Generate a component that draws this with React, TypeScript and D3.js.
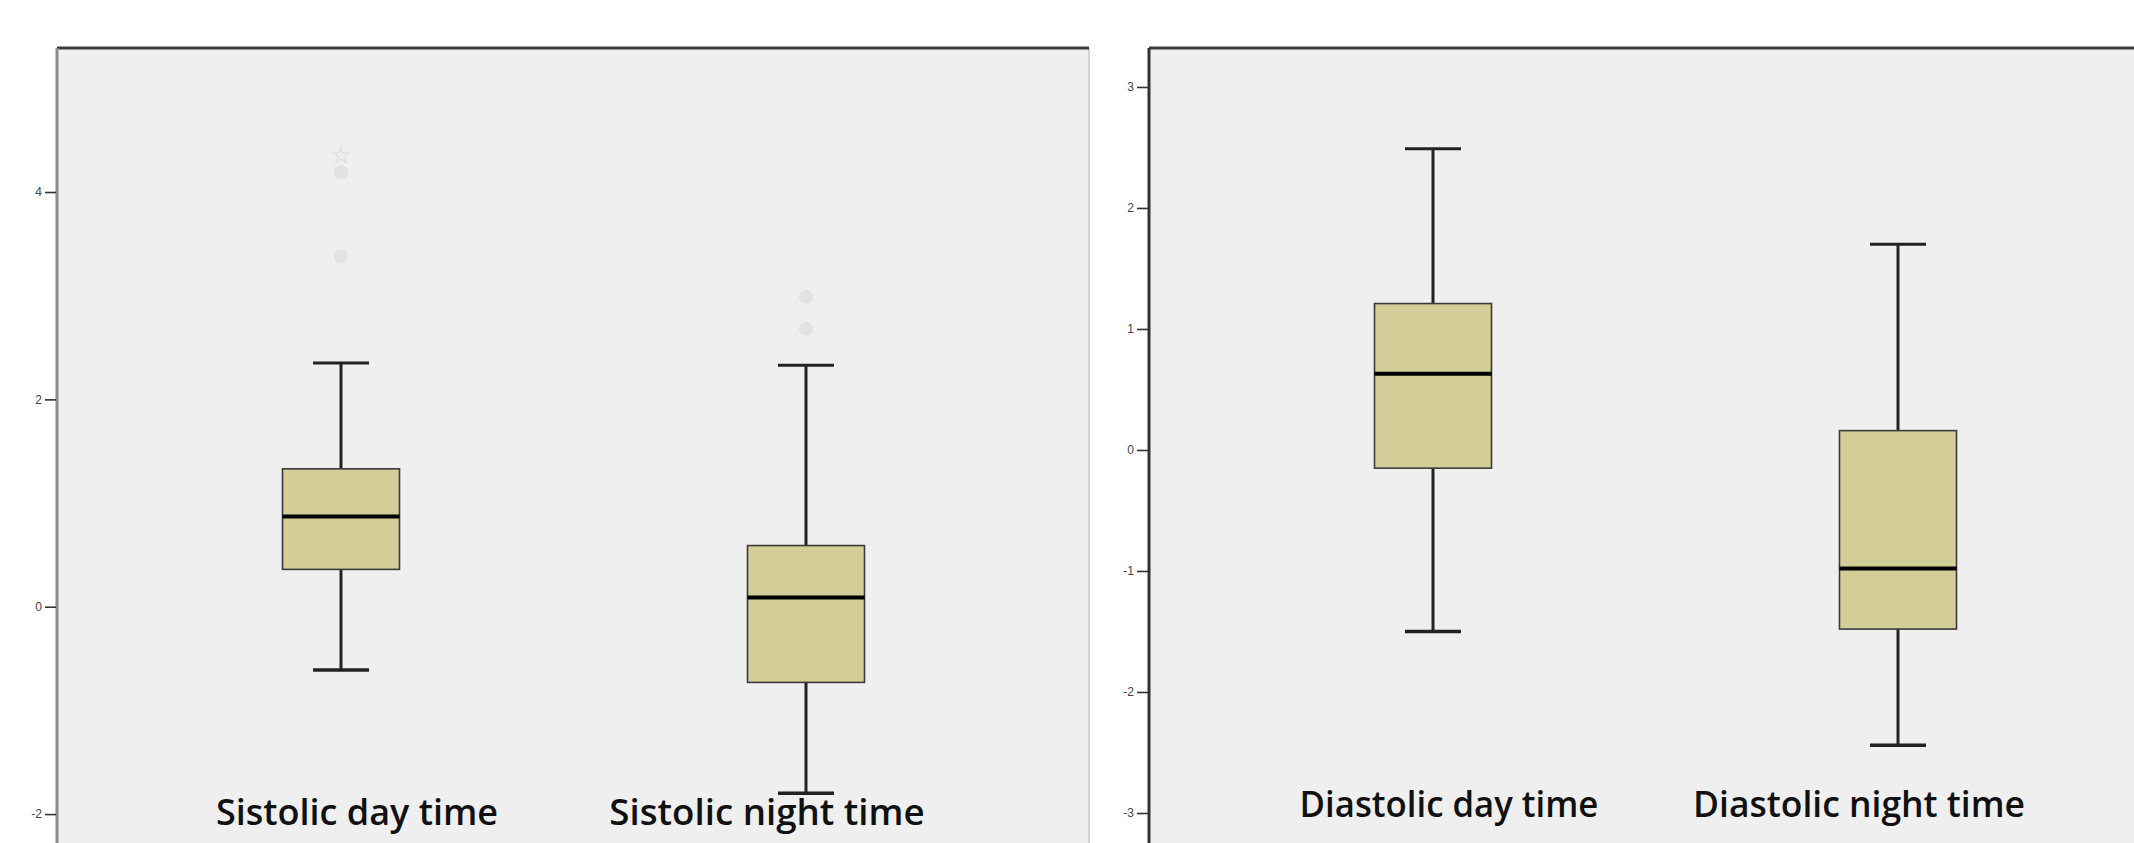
import * as d3 from "d3";
import { useEffect, useRef } from "react";

// categories
const sisCategories = ["Sistolic day time", "Sistolic night time"];
const diaCategories = ["Diastolic day time", "Diastolic night time"];

// sistolic box stats
const sisLow = [-0.61, -1.8];
const sisQ1 = [0.36, -0.73];
const sisMedian = [0.87, 0.09];
const sisQ3 = [1.33, 0.59];
const sisHigh = [2.35, 2.33];
const sisOutliers = [[3.38, 4.19], [2.68, 2.99]];
const sisExtremes = [[4.35], []];

// diastolic box stats
const diaLow = [-1.5, -2.44];
const diaQ1 = [-0.15, -1.48];
const diaMedian = [0.63, -0.98];
const diaQ3 = [1.21, 0.16];
const diaHigh = [2.49, 1.7];
const diaOutliers = [[], []];
const diaExtremes = [[], []];

// tick labels
const sisTicks = [-2, 0, 2, 4];
const diaTicks = [-3, -2, -1, 0, 1, 2, 3];

const W = 2134;
const H = 843;

type PanelProps = {
    id: string;
    left: number;
    categories: string[];
    low: number[];
    q1: number[];
    median: number[];
    q3: number[];
    high: number[];
    outliers: number[][];
    extremes: number[][];
    ticks: number[];
    domain: [number, number];
    labelBaseline: number;
    leftBorder: string;
};

function Panel(props: PanelProps) {
    const { id, left, categories, ticks, domain } = props;
    const axisRef = useRef<SVGGElement>(null);

    const panel = { top: 48, width: 1032, bottom: H + 20 };
    const boxWidth = 117;
    const capWidth = 56;

    const x = d3.scalePoint<string>().domain(categories).range([284, 749]);
    const xLabel = d3.scalePoint<string>().domain(categories).range([300, 710]);
    const y = d3.scaleLinear().domain(domain).range([H, panel.top]);

    useEffect(() => {
        const g = d3.select(axisRef.current);
        g.call(d3.axisLeft(y).tickValues(ticks).tickSize(11).tickPadding(3).tickFormat((t) => String(t)));
        g.select(".domain").remove();
        g.selectAll(".tick line").attr("stroke", "#333").attr("stroke-width", 1.6);
        g.selectAll(".tick text")
            .attr("fill", "#444")
            .attr("font-size", 12)
            .attr("font-family", "Liberation Sans, Arial, sans-serif");
    }, [id]);

    const star = d3.symbol(d3.symbolStar, 80)() || "";

    return (
        <g transform={`translate(${left},0)`}>
            <rect x={0} y={panel.top} width={panel.width} height={panel.bottom - panel.top} fill="#efefef" />
            <line x1={panel.width} x2={panel.width} y1={panel.top} y2={panel.bottom} stroke="#d4d4d4" strokeWidth={2} />
            <line x1={0} x2={panel.width} y1={panel.top} y2={panel.top} stroke="#3c3c3c" strokeWidth={3} />
            <line x1={0} x2={0} y1={panel.top} y2={panel.bottom} stroke={props.leftBorder} strokeWidth={3} />
            <g ref={axisRef} transform="translate(-1,0)" />

            {categories.map((c, i) => {
                const cx = x(c) as number;
                return (
                    <g key={c}>
                        {props.outliers[i].map((v, j) => (
                            <circle key={j} cx={cx} cy={y(v)} r={7} fill="#e2e2e2" />
                        ))}
                        {props.extremes[i].map((v, j) => (
                            <path key={j} d={star} transform={`translate(${cx},${y(v)})`} fill="none" stroke="#e0e0e0" strokeWidth={1.5} />
                        ))}
                        <line x1={cx} x2={cx} y1={y(props.high[i])} y2={y(props.q3[i])} stroke="#222" strokeWidth={3} />
                        <line x1={cx} x2={cx} y1={y(props.q1[i])} y2={y(props.low[i])} stroke="#222" strokeWidth={3} />
                        <line x1={cx - capWidth / 2} x2={cx + capWidth / 2} y1={y(props.high[i])} y2={y(props.high[i])} stroke="#222" strokeWidth={3} />
                        <line x1={cx - capWidth / 2} x2={cx + capWidth / 2} y1={y(props.low[i])} y2={y(props.low[i])} stroke="#222" strokeWidth={3.5} />
                        <rect
                            x={cx - boxWidth / 2}
                            y={y(props.q3[i])}
                            width={boxWidth}
                            height={y(props.q1[i]) - y(props.q3[i])}
                            fill="#d3ce98"
                            stroke="#3a3a3a"
                            strokeWidth={1.6}
                        />
                        <line x1={cx - boxWidth / 2} x2={cx + boxWidth / 2} y1={y(props.median[i])} y2={y(props.median[i])} stroke="#000" strokeWidth={4} />
                        <text
                            x={xLabel(c)}
                            y={props.labelBaseline}
                            textAnchor="middle"
                            fontFamily="'Open Sans', 'Liberation Sans', Arial, sans-serif"
                            fontWeight={600}
                            fontSize={36}
                            fill="#111"
                            textLength={c.length * 16.6}
                            lengthAdjust="spacingAndGlyphs"
                        >
                            {c}
                        </text>
                    </g>
                );
            })}
        </g>
    );
}

export default function App() {
    return (
        <svg width={W} height={H} style={{ position: "absolute", left: 0, top: 0, background: "#fff" }}>
            <Panel
                id="sis"
                left={57}
                categories={sisCategories}
                low={sisLow}
                q1={sisQ1}
                median={sisMedian}
                q3={sisQ3}
                high={sisHigh}
                outliers={sisOutliers}
                extremes={sisExtremes}
                ticks={sisTicks}
                domain={[-2.279, 5.389]}
                labelBaseline={825}
                leftBorder="#8a8a8a"
            />
            <Panel
                id="dia"
                left={1149}
                categories={diaCategories}
                low={diaLow}
                q1={diaQ1}
                median={diaMedian}
                q3={diaQ3}
                high={diaHigh}
                outliers={diaOutliers}
                extremes={diaExtremes}
                ticks={diaTicks}
                domain={[-3.248, 3.322]}
                labelBaseline={817}
                leftBorder="#333"
            />
        </svg>
    );
}
